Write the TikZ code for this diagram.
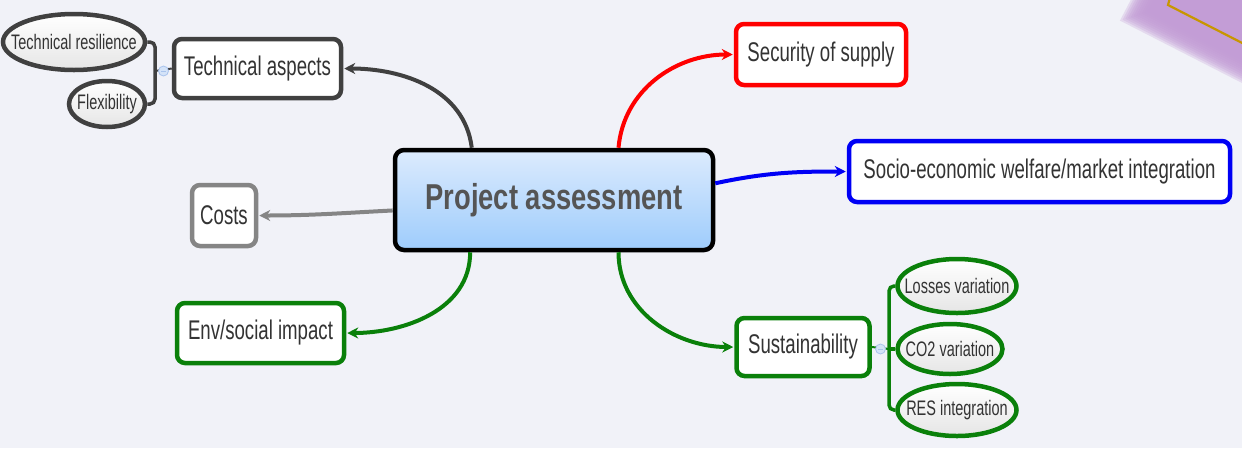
\documentclass[tikz,border=0pt]{standalone}
\usepackage{fontspec}
\setmainfont{Liberation Sans}[FakeStretch=0.69]
\newfontfamily\centerfont{Liberation Sans}[FakeStretch=0.76]
\usetikzlibrary{shapes.geometric,arrows.meta,calc}
\definecolor{bg}{HTML}{F1F2F8}
\definecolor{txt}{HTML}{333333}
\definecolor{ctxt}{HTML}{555555}
\definecolor{dgrey}{HTML}{404040}
\definecolor{lgrey}{HTML}{858585}
\definecolor{mgreen}{HTML}{0A800A}
\definecolor{mred}{HTML}{FF0000}
\definecolor{mblue}{HTML}{0000F5}
\definecolor{ptop}{HTML}{DCEBFD}
\definecolor{pbot}{HTML}{9ECCFC}
\definecolor{glow}{HTML}{C39CD6}
\definecolor{gold}{HTML}{C89600}
\definecolor{knob}{HTML}{D4E3F8}
\definecolor{knobd}{HTML}{A9C3EC}
\tikzset{
  topicbox/.style={draw, line width=4.5pt, rounded corners=8pt, fill=white, text=txt,
    font=\fontsize{27}{30}\selectfont, inner sep=0pt},
  subell/.style={ellipse, draw, line width=4.5pt, inner sep=0pt, top color=white,
    bottom color=black!10, text=txt, font=\fontsize{21}{23}\selectfont},
  conn/.style={line width=4pt, -{Stealth[length=11pt,width=11pt]}, shorten >=1pt},
  knobnode/.style={circle, draw=knobd, fill=knob, line width=0.8pt, minimum size=10pt, inner sep=0pt},
  brk/.style={line width=3.5pt, rounded corners=5pt}
}
\newcommand{\etext}[1]{\makebox[0pt]{#1}}
\begin{document}
\begin{tikzpicture}[x=1pt,y=-1pt]
\useasboundingbox (0,0) rectangle (1242,448);
\clip (0,0) rectangle (1242,448);
\fill[bg] (0,0) rectangle (1242,448);
% purple decoration top right
\foreach \o in {-14,-12,...,6}{
  \fill[glow, opacity=0.28, shift={(\o*-1.346,\o*0.432)}]
    (1128,18) -- (1306,109) -- (1400,-100) -- (1151,-26) -- cycle;
}
\draw[gold, line width=2.2pt] (1171,-6) -- (1168,5) -- (1250,47);

% nodes
\node[draw=black, line width=4.5pt, rounded corners=9pt, top color=ptop, bottom color=pbot,
  minimum width=318pt, minimum height=100pt, inner sep=0pt, text=ctxt,
  font=\centerfont\bfseries\fontsize{36}{40}\selectfont] (pa) at (554,200) {Project assessment};

\node[topicbox, draw=dgrey, minimum width=167pt, minimum height=59pt] (ta) at (257.5,68.5) {Technical aspects};
\node[topicbox, draw=lgrey, minimum width=64pt, minimum height=61pt] (co) at (224,215.5) {Costs};
\node[topicbox, draw=mgreen, minimum width=167pt, minimum height=60pt] (env) at (260.5,333) {Env/social impact};
\node[topicbox, draw=mred, minimum width=170pt, minimum height=61pt] (ss) at (821,54.5) {Security of supply};
\node[topicbox, draw=mblue, minimum width=381pt, minimum height=61pt] (se) at (1039.5,171.5) {Socio-economic welfare/market integration};
\node[topicbox, draw=mgreen, minimum width=133pt, minimum height=58pt] (su) at (803,347) {Sustainability};

\node[subell, draw=dgrey, minimum width=142pt, minimum height=56pt] (tr) at (74,42) {\etext{Technical resilience}};
\node[subell, draw=dgrey, minimum width=76pt, minimum height=46pt] (fl) at (107,104) {\etext{Flexibility}};

\node[subell, draw=mgreen, minimum width=119pt, minimum height=54pt] (lv) at (957,286) {\etext{Losses variation}};
\node[subell, draw=mgreen, minimum width=105pt, minimum height=50pt] (cv) at (950,349) {\etext{CO2 variation}};
\node[subell, draw=mgreen, minimum width=119pt, minimum height=52pt] (ri) at (957,410) {\etext{RES integration}};

% brackets
\coordinate (b1) at (155,71);
\coordinate (b2) at (889,349);
\draw[brk, dgrey] (tr.east) -| (b1) |- (fl.east);
\draw[line width=2pt, dgrey] (b1) -- (ta.west);
\node[knobnode] (k1) at (163.5,71) {};
\draw[knobd, line width=0.8pt] ($(k1.center)+(-2.5,0)$) -- ($(k1.center)+(2.5,0)$);

\draw[brk, mgreen] (lv.west) -| (b2) |- (ri.west);
\draw[line width=3.5pt, mgreen] (b2) -- (cv.west);
\draw[line width=2pt, mgreen] (su.east) -- (b2);
\node[knobnode] (k2) at (880.5,349) {};
\draw[knobd, line width=0.8pt] ($(k2.center)+(-2.5,0)$) -- ($(k2.center)+(2.5,0)$);

% connectors
\draw[conn, dgrey] ($(pa.north west)!0.245!(pa.north east)$) to[out=97,in=0] (ta.east);
\draw[conn, mred] ($(pa.north west)!0.70!(pa.north east)$) to[out=85,in=180] (ss.west);
\draw[conn, mblue] ($(pa.north east)!0.34!(pa.south east)$) to[out=12,in=180] (se.west);
\draw[conn, lgrey] ($(pa.north west)!0.6!(pa.south west)$) to[out=183,in=0] (co.east);
\draw[conn, mgreen] ($(pa.south west)!0.24!(pa.south east)$) to[out=-90,in=0] (env.east);
\draw[conn, mgreen] ($(pa.south west)!0.70!(pa.south east)$) to[out=-90,in=180] (su.west);
\end{tikzpicture}
\end{document}
